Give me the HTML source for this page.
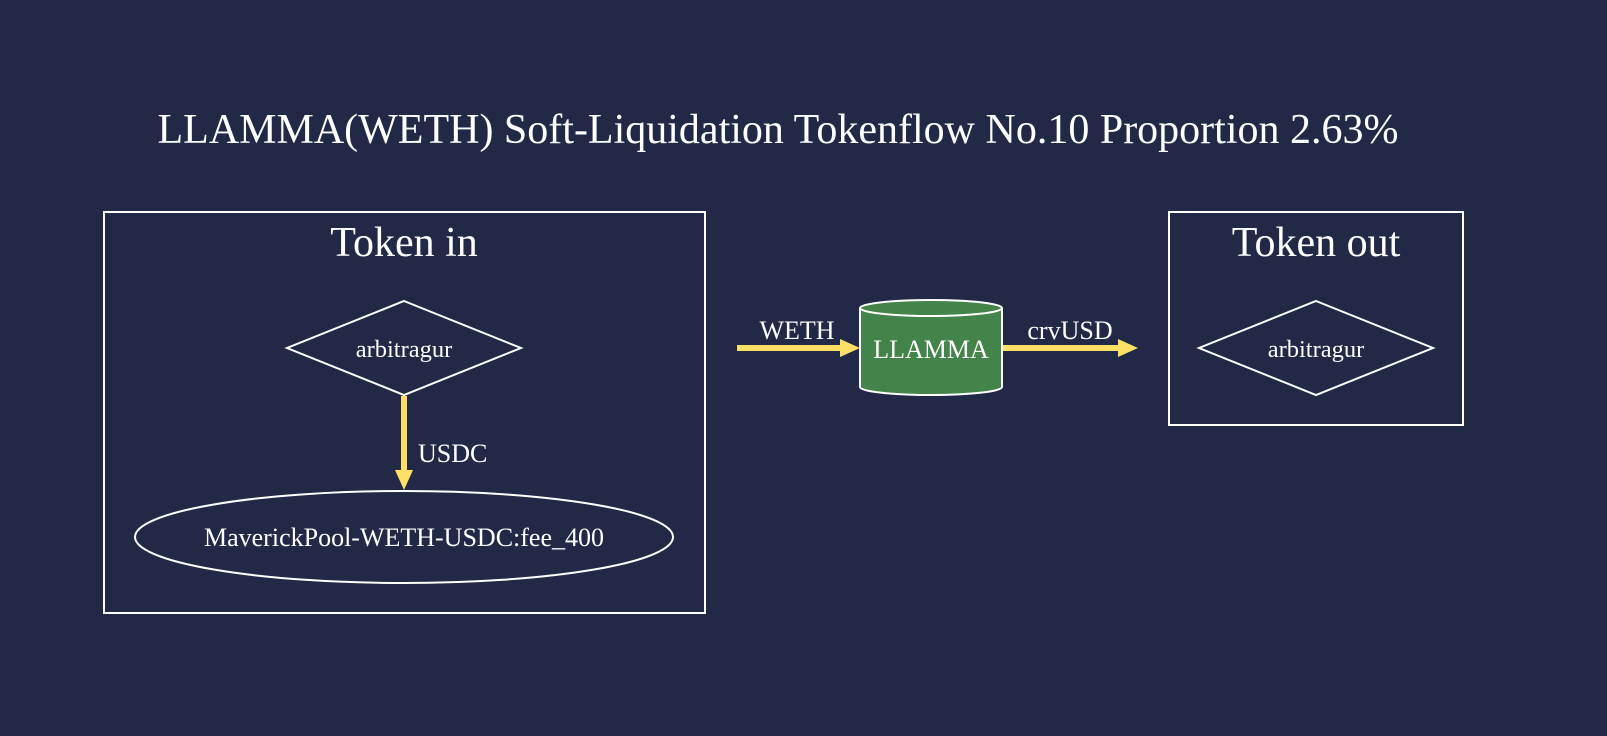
<!DOCTYPE html>
<html><head><meta charset="utf-8"><style>
html,body{margin:0;padding:0;background:#212946;}
svg{display:block;}
text{font-family:"Liberation Serif",serif;fill:#fff;}
</style></head><body>
<svg width="1607" height="736" viewBox="0 0 1607 736" xmlns="http://www.w3.org/2000/svg">
<rect width="1607" height="736" fill="#212946"/>
<text x="778" y="143" font-size="42" text-anchor="middle">LLAMMA(WETH) Soft-Liquidation Tokenflow No.10 Proportion 2.63%</text>
<rect x="104" y="212" width="601" height="401" fill="none" stroke="#fff" stroke-width="2"/>
<text x="404" y="256" font-size="42" text-anchor="middle">Token in</text>
<polygon points="404,301 521,348 404,395 287,348" fill="none" stroke="#fff" stroke-width="2"/>
<text x="404" y="357" font-size="24.5" text-anchor="middle">arbitragur</text>
<line x1="404" y1="396" x2="404" y2="472" stroke="#ffe066" stroke-width="6"/>
<polygon points="395,470 413,470 404,490" fill="#ffe066"/>
<text x="418" y="462" font-size="26">USDC</text>
<ellipse cx="404" cy="537" rx="269" ry="46" fill="none" stroke="#fff" stroke-width="2"/>
<text x="404" y="546" font-size="26" text-anchor="middle">MaverickPool-WETH-USDC:fee_400</text>
<line x1="737" y1="348" x2="842" y2="348" stroke="#ffe066" stroke-width="6"/>
<polygon points="840,339 860,348 840,357" fill="#ffe066"/>
<text x="797" y="339" font-size="26" text-anchor="middle">WETH</text>
<path d="M860,308 L860,387 A71,8 0 0 0 1002,387 L1002,308" fill="#43844a" stroke="#fff" stroke-width="2"/>
<ellipse cx="931" cy="308" rx="71" ry="8" fill="#43844a" stroke="#fff" stroke-width="2"/>
<text x="931" y="358" font-size="26" text-anchor="middle">LLAMMA</text>
<line x1="1003" y1="348" x2="1120" y2="348" stroke="#ffe066" stroke-width="6"/>
<polygon points="1118,339 1138,348 1118,357" fill="#ffe066"/>
<text x="1070" y="339" font-size="26" text-anchor="middle">crvUSD</text>
<rect x="1169" y="212" width="294" height="213" fill="none" stroke="#fff" stroke-width="2"/>
<text x="1316" y="256" font-size="42" text-anchor="middle">Token out</text>
<polygon points="1316,301 1433,348 1316,395 1199,348" fill="none" stroke="#fff" stroke-width="2"/>
<text x="1316" y="357" font-size="24.5" text-anchor="middle">arbitragur</text>
</svg>
</body></html>
